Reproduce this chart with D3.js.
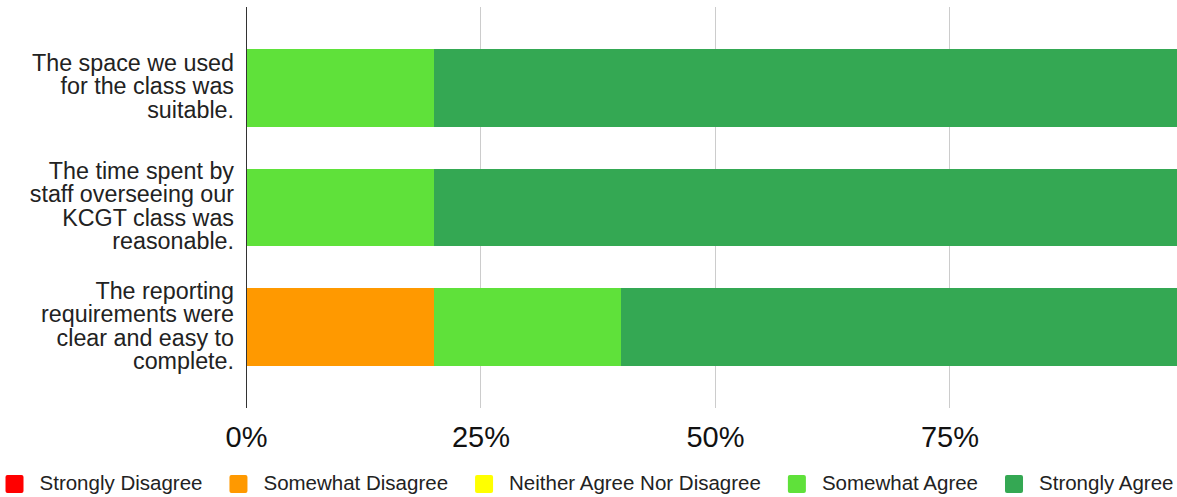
<!DOCTYPE html>
<html>
<head>
<meta charset="utf-8">
<script src="https://cdn.jsdelivr.net/npm/d3@7"></script>
<style>
  html, body { margin: 0; padding: 0; background: #fff; }
  svg { display: block; font-family: "Liberation Sans", Arial, sans-serif; }
</style>
</head>
<body>
<svg id="chart" width="1177" height="497"></svg>
<script>
// Survey statements (one bar each, top to bottom)
const categories = [
  ["The space we used", "for the class was", "suitable."],
  ["The time spent by", "staff overseeing our", "KCGT class was", "reasonable."],
  ["The reporting", "requirements were", "clear and easy to", "complete."]
];
const categoryKeys = ["space", "time", "reporting"];

// Response options, in stacking order
const seriesNames = [
  "Strongly Disagree",
  "Somewhat Disagree",
  "Neither Agree Nor Disagree",
  "Somewhat Agree",
  "Strongly Agree"
];
const seriesColors = ["#ff0000", "#ff9900", "#ffff00", "#5fe13a", "#34a853"];

// Share of responses (%) per statement
const stronglyDisagree = [0, 0, 0];
const somewhatDisagree = [0, 0, 20];
const neitherAgreeNorDisagree = [0, 0, 0];
const somewhatAgree = [20, 20, 20];
const stronglyAgree = [80, 80, 60];

const tickValues = [0, 25, 50, 75];
const tickLabels = ["0%", "25%", "50%", "75%"];

const seriesValues = [stronglyDisagree, somewhatDisagree, neitherAgreeNorDisagree, somewhatAgree, stronglyAgree];
const rows = categoryKeys.map((k, i) => {
  const r = { key: k };
  seriesNames.forEach((s, j) => { r[s] = seriesValues[j][i]; });
  return r;
});

const svg = d3.select("#chart");
const W = 1177, H = 497;

const x = d3.scaleLinear().domain([0, 100]).range([246, 1184]);
const y = d3.scaleBand().domain(categoryKeys).range([7, 408])
  .paddingInner(0.35).paddingOuter(0.346);
const color = d3.scaleOrdinal().domain(seriesNames).range(seriesColors);

// vertical gridlines
svg.append("g").selectAll("line")
  .data(tickValues.filter(v => v > 0))
  .join("line")
  .attr("x1", d => x(d)).attr("x2", d => x(d))
  .attr("y1", 7).attr("y2", 408)
  .attr("stroke", "#cccccc").attr("stroke-width", 1)
  .attr("shape-rendering", "crispEdges");

// stacked bars
const stacked = d3.stack().keys(seriesNames)(rows);
svg.append("g").selectAll("g")
  .data(stacked)
  .join("g")
  .attr("fill", d => color(d.key))
  .selectAll("rect")
  .data(d => d.filter(s => s[1] - s[0] > 0))
  .join("rect")
  .attr("x", d => x(d[0]))
  .attr("width", d => x(d[1]) - x(d[0]))
  .attr("y", d => y(d.data.key))
  .attr("height", y.bandwidth())
  .attr("shape-rendering", "crispEdges");

// baseline axis line at 0%
svg.append("line")
  .attr("x1", x(0)).attr("x2", x(0))
  .attr("y1", 7).attr("y2", 408)
  .attr("stroke", "#333333").attr("stroke-width", 1)
  .attr("shape-rendering", "crispEdges");

// x tick labels
const xAxis = d3.axisBottom(x).tickValues(tickValues)
  .tickFormat((d, i) => tickLabels[i]).tickSize(0).tickPadding(0);
const gx = svg.append("g").attr("transform", "translate(0,447)").call(xAxis);
gx.select(".domain").remove();
gx.selectAll("text")
  .attr("dy", 0).attr("y", 0)
  .attr("font-size", 29)
  .attr("font-family", "'Liberation Sans', Arial, sans-serif")
  .attr("fill", "#111");

// category labels, multi-line, right-aligned
const lh = 23.5;
const labelG = svg.append("g");
categoryKeys.forEach((k, i) => {
  const lines = categories[i];
  const cy = y(k) + y.bandwidth() / 2;
  const t = labelG.append("text")
    .attr("text-anchor", "end")
    .attr("font-size", 23.3)
    .attr("fill", "#222");
  lines.forEach((ln, j) => {
    t.append("tspan")
      .attr("x", 234)
      .attr("y", cy - (lines.length - 1) / 2 * lh + 6.5 + j * lh)
      .text(ln);
  });
});

// legend
const legend = svg.append("g");
const items = legend.selectAll("g").data(seriesNames).join("g");
items.append("rect")
  .attr("width", 18).attr("height", 18).attr("rx", 2)
  .attr("y", 475)
  .attr("fill", d => color(d));
items.append("text")
  .attr("x", 34).attr("y", 490)
  .attr("font-size", 20.5)
  .attr("fill", "#222")
  .text(d => d);
let cursor = 0;
const offsets = [];
items.each(function () {
  const tw = d3.select(this).select("text").node().getComputedTextLength();
  offsets.push(cursor);
  cursor += 34 + tw + 27;
});
const total = cursor - 27;
const startX = (W - total) / 2 + 1;
items.attr("transform", (d, i) => `translate(${startX + offsets[i]},0)`);
</script>
</body>
</html>
